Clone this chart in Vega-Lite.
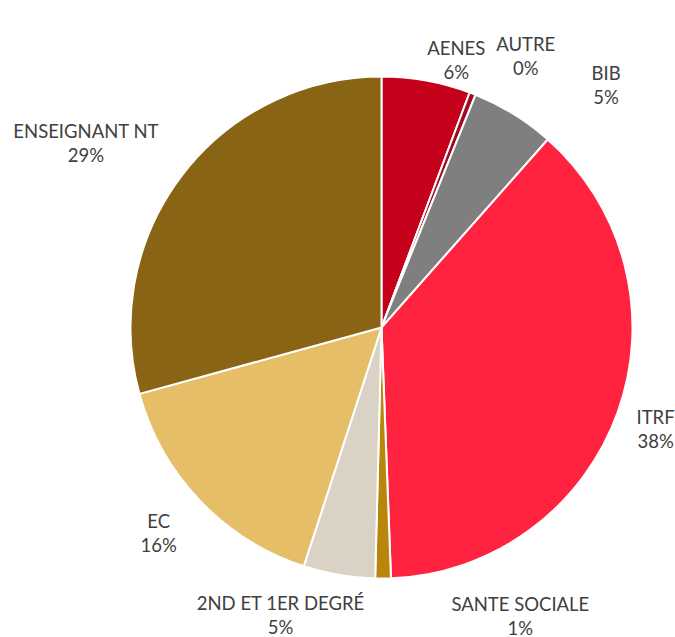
{
  "$schema": "https://vega.github.io/schema/vega-lite/v6.json",
  "width": 587,
  "height": 619,
  "autosize": {"type": "none"},
  "padding": {"left": 88, "top": 18, "right": 0, "bottom": 0},
  "background": "white",
  "config": {"view": {"stroke": null}, "text": {"font": "Lato", "fontSize": 18.5, "color": "#404040", "lineHeight": 24, "lineBreak": "\n", "radius": 290}},
  "data": {
    "values": [
      {"cat": "AENES", "pct": 5.7, "i": 1},
      {"cat": "AUTRE", "pct": 0.4, "i": 2},
      {"cat": "BIB", "pct": 5.4, "i": 3},
      {"cat": "ITRF", "pct": 37.8, "i": 4},
      {"cat": "SANTE SOCIALE", "pct": 1.0, "i": 5},
      {"cat": "2ND ET 1ER DEGRÉ", "pct": 4.6, "i": 6},
      {"cat": "EC", "pct": 15.7, "i": 7},
      {"cat": "ENSEIGNANT NT", "pct": 29.2, "i": 8}
    ]
  },
  "transform": [
    {"stack": "pct", "groupby": [], "sort": [{"field": "i", "order": "ascending"}], "as": ["start", "end"]},
    {"calculate": "(datum.start + datum.end) / 2", "as": "mid"},
    {"calculate": "datum.cat + '\\n' + format(datum.pct, '.0f') + '%'", "as": "label"}
  ],
  "encoding": {
    "theta": {"field": "mid", "type": "quantitative", "scale": {"domain": [0, 99.8]}}
  },
  "layer": [
    {
      "mark": {"type": "arc", "outerRadius": 251, "stroke": "white", "strokeWidth": 2},
      "encoding": {
        "theta": {"field": "start", "type": "quantitative", "scale": {"domain": [0, 99.8]}},
        "theta2": {"field": "end"},
        "color": {
          "field": "cat",
          "type": "nominal",
          "legend": null,
          "scale": {
            "domain": ["AENES", "AUTRE", "BIB", "ITRF", "SANTE SOCIALE", "2ND ET 1ER DEGRÉ", "EC", "ENSEIGNANT NT"],
            "range": ["#C4001A", "#9E0B24", "#7F7F7F", "#FF2340", "#B8860B", "#D9D2C5", "#E5BE67", "#8A6415"]
          }
        }
      }
    },
    {
      "transform": [{"filter": "datum.cat == 'AENES'"}],
      "mark": {"type": "text", "dx": 23, "dy": 7},
      "encoding": {"text": {"field": "label"}}
    },
    {
      "transform": [{"filter": "datum.cat == 'AUTRE'"}],
      "mark": {"type": "text", "dx": 39, "dy": -12},
      "encoding": {"text": {"field": "label"}}
    },
    {
      "transform": [{"filter": "datum.cat == 'BIB'"}],
      "mark": {"type": "text", "dx": 72, "dy": -7},
      "encoding": {"text": {"field": "label"}}
    },
    {
      "transform": [{"filter": "datum.cat == 'ITRF'"}],
      "mark": {"type": "text", "dx": 1, "dy": -7},
      "encoding": {"text": {"field": "label"}}
    },
    {
      "transform": [{"filter": "datum.cat == 'SANTE SOCIALE'"}],
      "mark": {"type": "text", "dx": 137, "dy": -12},
      "encoding": {"text": {"field": "label"}}
    },
    {
      "transform": [{"filter": "datum.cat == '2ND ET 1ER DEGRÉ'"}],
      "mark": {"type": "text", "dx": -52, "dy": -9},
      "encoding": {"text": {"field": "label"}}
    },
    {
      "transform": [{"filter": "datum.cat == 'EC'"}],
      "mark": {"type": "text", "dx": -13, "dy": -6},
      "encoding": {"text": {"field": "label"}}
    },
    {
      "transform": [{"filter": "datum.cat == 'ENSEIGNANT NT'"}],
      "mark": {"type": "text", "dx": -65, "dy": -20},
      "encoding": {"text": {"field": "label"}}
    }
  ]
}
